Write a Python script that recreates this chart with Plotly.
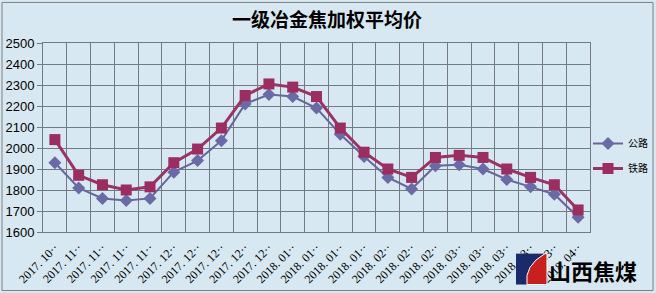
import plotly.graph_objects as go

categories = ["2017. 10··"] + ["2017. 11··"] * 4 + ["2017. 12··"] * 5 + ["2018. 01··"] * 4 + \
             ["2018. 02··"] * 3 + ["2018. 03··"] * 5 + ["2018. 04··"]
gonglu = [1930, 1810, 1760, 1750, 1760, 1885, 1940, 2035, 2210, 2255, 2245, 2190,
          2065, 1960, 1860, 1805, 1915, 1920, 1900, 1850, 1815, 1780, 1670]
tielu = [2040, 1870, 1825, 1800, 1815, 1930, 1995, 2095, 2250, 2305, 2290, 2245,
         2095, 1980, 1900, 1860, 1955, 1965, 1955, 1900, 1860, 1825, 1705]
yticks = [1600, 1700, 1800, 1900, 2000, 2100, 2200, 2300, 2400, 2500]

W, H = 656, 293
L, R, T, B = 43, 590, 42.7, 232.3

def px(x):
    return (x - L) / (R - L)

def py(y):
    return (B - y) / (B - T)

xs = list(range(len(categories)))
fig = go.Figure()
fig.add_trace(go.Scatter(x=xs, y=gonglu, name="公路", mode="lines+markers",
                         line=dict(color="#666699", width=2),
                         marker=dict(symbol="diamond", size=10, color="#6a6aa6"),
                         legendgroup="a"))
fig.add_trace(go.Scatter(x=xs, y=tielu, name="铁路", mode="lines+markers",
                         line=dict(color="#993366", width=3),
                         marker=dict(symbol="square", size=11, color="#9b2d61"),
                         legendgroup="b"))

bg = "#d8e8f2"
grid = "#737a82"
fig.update_layout(
    width=W, height=H, paper_bgcolor=bg, plot_bgcolor=bg,
    margin=dict(l=L, r=W - R, t=T, b=H - B, autoexpand=False),
    title=dict(text="<b>一级冶金焦加权平均价</b>", x=327 / W, xanchor="center",
               y=1 - 20 / H, yanchor="middle",
               font=dict(family="Noto Sans CJK SC", size=19, color="#000000")),
    showlegend=True,
    legend=dict(xref="container", yref="container", x=588 / W, xanchor="left",
                y=1 - 129 / H, yanchor="top",
                bgcolor="rgba(0,0,0,0)", tracegroupgap=6, traceorder="grouped",
                font=dict(family="Noto Sans CJK SC", size=10, color="#000000"),
                itemwidth=30),
    xaxis=dict(range=[-0.5, len(categories) - 0.5], tickmode="array", tickvals=xs,
               ticktext=categories, tickangle=-45, showgrid=False, zeroline=False,
               automargin=False,
               ticks="outside", ticklen=3, tickcolor="rgba(0,0,0,0)",
               showline=True, linecolor=grid, linewidth=1, mirror=True,
               tickfont=dict(family="Liberation Serif", size=12, color="#000000"),
               minor=dict(tickmode="linear", tick0=-0.5, dtick=1, showgrid=True,
                          gridcolor=grid, gridwidth=1, ticks="")),
    yaxis=dict(range=[1600, 2500], tickmode="array", tickvals=yticks,
               showgrid=True, gridcolor=grid, gridwidth=1, zeroline=False,
               automargin=False,
               ticks="outside", ticklen=5, tickcolor=grid,
               showline=True, linecolor=grid, linewidth=1, mirror=True,
               tickfont=dict(family="Liberation Sans", size=13, color="#000000")),
)

# chart border
fig.add_shape(type="rect", xref="paper", yref="paper", x0=px(2), x1=px(653),
              y0=py(291), y1=py(2), line=dict(color="#808080", width=1),
              fillcolor="rgba(0,0,0,0)", layer="below")
# logo
fig.add_shape(type="rect", xref="paper", yref="paper", x0=px(516), x1=px(547),
              y0=py(285), y1=py(254), line=dict(width=0), fillcolor="#1b2a6b")
fig.add_shape(type="path", xref="paper", yref="paper",
              path="M %f %f Q %f %f %f %f L %f %f L %f %f Z" % (
                  px(527), py(285), px(524), py(266), px(545), py(254),
                  px(547), py(254), px(547), py(285)),
              line=dict(color="#ffffff", width=1), fillcolor="#c8201e")
fig.add_annotation(text="<b>山西焦煤</b>", xref="paper", yref="paper",
                   x=px(593), y=py(270), xanchor="center", yanchor="middle",
                   showarrow=False,
                   font=dict(family="Noto Sans CJK SC", size=22, color="#000000"))

fig.write_html("out.html")
